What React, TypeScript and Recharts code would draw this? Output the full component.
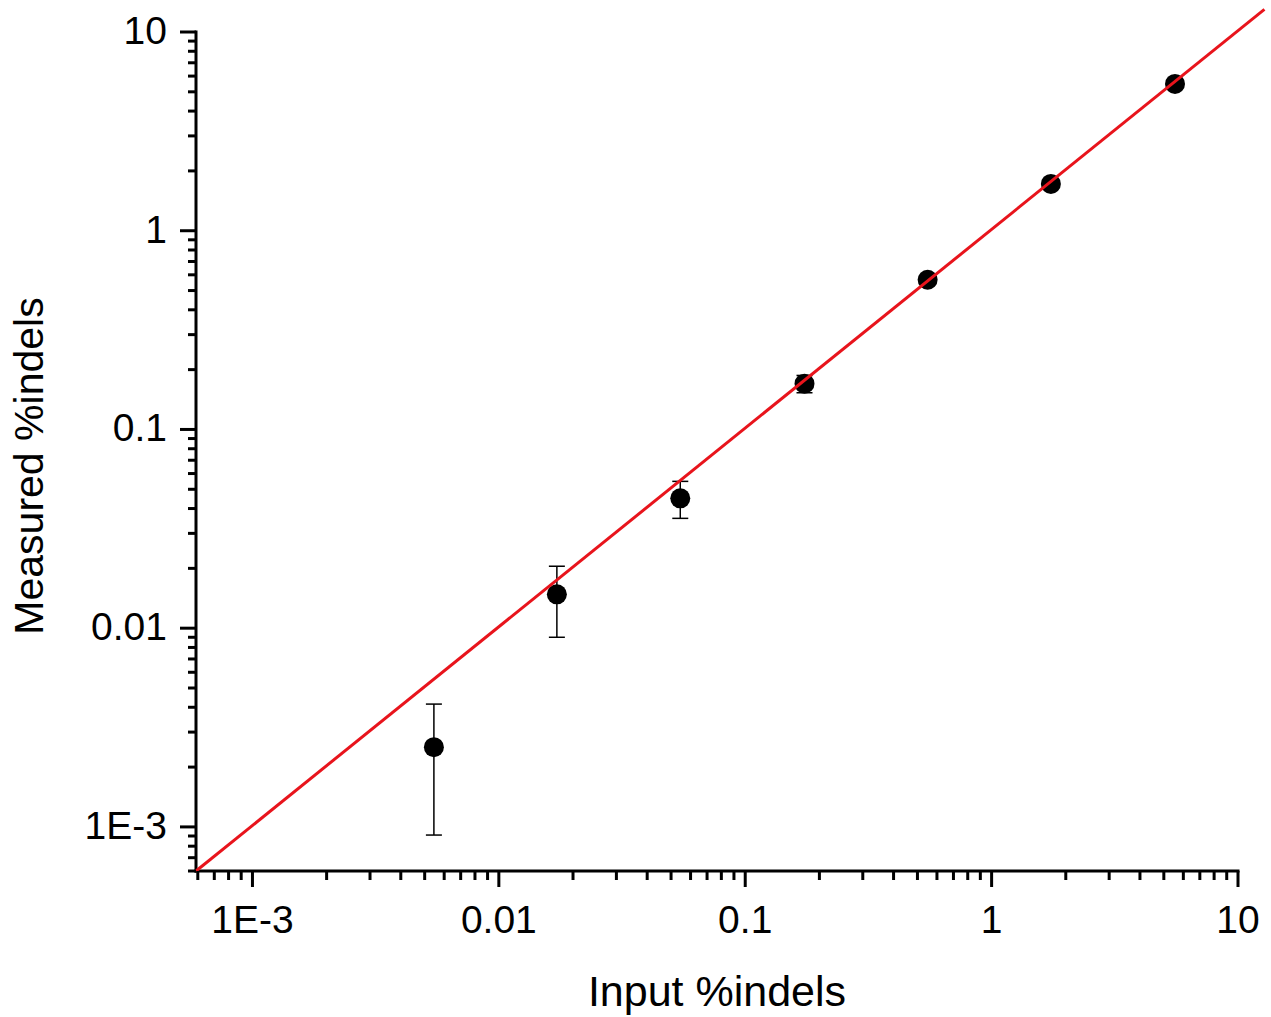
import React from 'react';
import { ScatterChart, Scatter, XAxis, YAxis, ErrorBar, ReferenceLine } from 'recharts';

// values
const inputPct = [0.00545, 0.0172, 0.0545, 0.174, 0.55, 1.74, 5.55];
const measuredPct = [0.00252, 0.0148, 0.045, 0.17, 0.567, 1.72, 5.48];
const measuredLow = [0.00091, 0.009, 0.0357, 0.153, 0.567, 1.72, 5.48];
const measuredHigh = [0.00415, 0.0205, 0.0548, 0.187, 0.567, 1.72, 5.48];

const majorTicks = [0.001, 0.01, 0.1, 1, 10];
const majorLabels = ['1E-3', '0.01', '0.1', '1', '10'];
const xDomain = [0.00059, 10];
const yDomain = [0.0006, 10];

// y = x reference line, running past the top-right corner
const fitStart = { x: 0.00059, y: 0.0006 };
const fitEnd = { x: 12.8, y: 13 };

const FONT = '"Liberation Sans", Arial, sans-serif';

const data = inputPct.map((x, i) => ({
  x,
  y: measuredPct[i],
  err: [measuredPct[i] - measuredLow[i], measuredHigh[i] - measuredPct[i]],
}));

const logTicks = (min: number, max: number) => {
  const out: number[] = [];
  for (let e = -4; e <= 1; e++) {
    for (let m = 1; m <= 9; m++) {
      const v = Number((m * Math.pow(10, e)).toPrecision(6));
      if (v >= min * 0.999 && v <= max * 1.001) out.push(v);
    }
  }
  return out;
};

const majorIndex = (v: number) =>
  majorTicks.findIndex((m) => Math.abs(Math.log10(m) - Math.log10(v)) < 1e-6);

const YTick = ({ x, y, payload }: any) => {
  const idx = majorIndex(payload.value);
  const len = idx >= 0 ? 16 : 8;
  return (
    <g>
      <line x1={x - len} x2={x} y1={y} y2={y} stroke="#000" strokeWidth={3} />
      {idx >= 0 && (
        <text x={x - 29} y={y + 12} textAnchor="end" fontSize={39} fontFamily={FONT} fill="#000">
          {majorLabels[idx]}
        </text>
      )}
    </g>
  );
};

const XTick = ({ x, y, payload }: any) => {
  const idx = majorIndex(payload.value);
  const len = idx >= 0 ? 16 : 9;
  return (
    <g>
      <line x1={x} x2={x} y1={y} y2={y + len} stroke="#000" strokeWidth={3} />
      {idx >= 0 && (
        <text x={x} y={y + 62} textAnchor="middle" fontSize={39} fontFamily={FONT} fill="#000">
          {majorLabels[idx]}
        </text>
      )}
    </g>
  );
};

const Dot = (props: any) => <circle cx={props.cx} cy={props.cy} r={10} fill="#000" />;

export default function App() {
  return (
    <div style={{ position: 'absolute', left: 0, top: 0, background: '#fff' }}>
      <ScatterChart width={1271} height={1017} margin={{ top: 32, right: 33, left: 46, bottom: 6 }}>
        <XAxis
          type="number"
          dataKey="x"
          scale="log"
          domain={xDomain}
          allowDataOverflow
          ticks={logTicks(xDomain[0], xDomain[1])}
          interval={0}
          tickSize={0}
          tickMargin={0}
          tickLine={false}
          tick={<XTick />}
          axisLine={{ stroke: '#000', strokeWidth: 3, strokeLinecap: 'square' }}
          height={140}
          label={(p: any) => (
            <text
              x={p.viewBox.x + p.viewBox.width / 2}
              y={p.viewBox.y + 135}
              textAnchor="middle"
              fontSize={43}
              fontFamily={FONT}
              fill="#000"
            >
              Input %indels
            </text>
          )}
        />
        <YAxis
          type="number"
          dataKey="y"
          scale="log"
          domain={yDomain}
          allowDataOverflow
          ticks={logTicks(yDomain[0], yDomain[1])}
          interval={0}
          tickSize={0}
          tickMargin={0}
          tickLine={false}
          tick={<YTick />}
          axisLine={{ stroke: '#000', strokeWidth: 3, strokeLinecap: 'square' }}
          width={150}
          label={(p: any) => (
            <text
              x={p.viewBox.x - 3}
              y={466}
              transform={`rotate(-90, ${p.viewBox.x - 3}, 466)`}
              textAnchor="middle"
              fontSize={41}
              fontFamily={FONT}
              fill="#000"
            >
              Measured %indels
            </text>
          )}
        />
        <Scatter data={data} shape={<Dot />} isAnimationActive={false}>
          <ErrorBar dataKey="err" direction="y" width={8} stroke="#000" strokeWidth={1.5} isAnimationActive={false} />
        </Scatter>
        <ReferenceLine
          segment={[fitStart, fitEnd]}
          ifOverflow="visible"
          stroke="#e8141c"
          strokeWidth={3}
          zIndex={700}
        />
      </ScatterChart>
    </div>
  );
}
